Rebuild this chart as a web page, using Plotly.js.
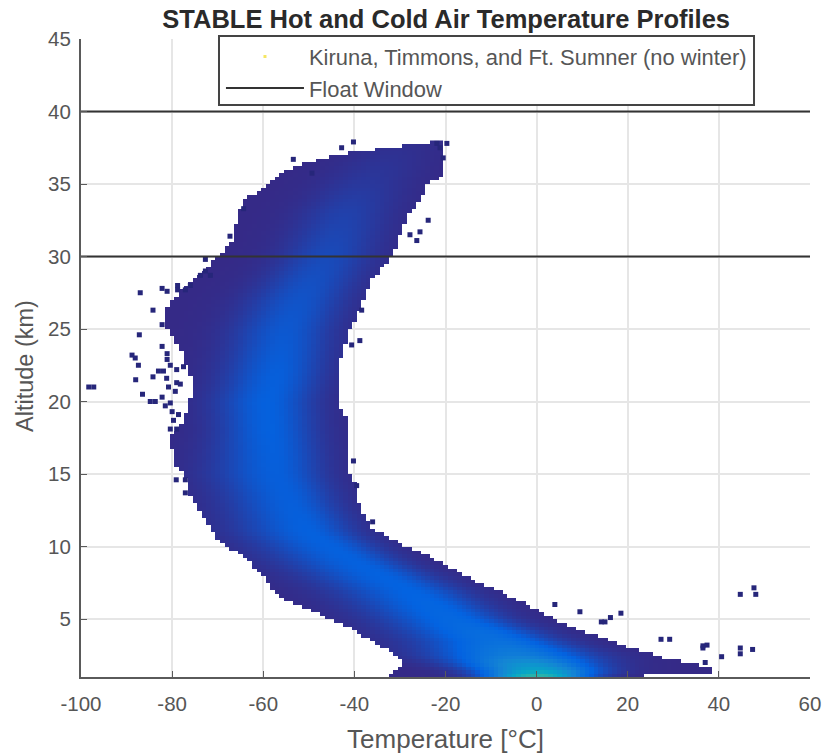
<!DOCTYPE html>
<html><head><meta charset="utf-8">
<script src="https://cdn.plot.ly/plotly-3.0.1.min.js"></script>
<style>html,body{margin:0;padding:0;background:#fff}</style></head>
<body><div id="chart" style="width:822px;height:754px"></div>
<script>
// Outline of the density cloud
const leftAlt  = [1,1.2,1.6,2,2.2,2.7,3.6,4.3,5.4,6.3,7.2,8.2,9.1,9.8,10.3,11.1,12.5,13.6,14.6,15.6,16.7,17.7,18.7,19.8,20.8,22.2,23.5,24.9,26.3,27.7,28.7,30,31.1,32.5,33.9,34.9,36,36.5,37,37.5,37.9];
const leftTemp = [-32,-32,-31,-29.5,-29.3,-32,-36.6,-40.3,-48,-54.8,-58.5,-60.7,-63.5,-66.6,-69.5,-71,-74,-76,-76.7,-79,-80,-80,-77.5,-76.6,-75,-76.6,-78,-81,-81.5,-78,-74,-70,-67,-65.7,-64.3,-59,-54.8,-50,-44,-32,-23];
const rightAlt  = [1,1.35,1.36,1.7,2.3,3,3.8,4.6,5.8,6.8,7.85,9.1,9.8,10.95,11.4,12.3,13.2,14.2,15.6,17,18,19.1,20.1,21.5,22.9,23.9,24.9,25.6,27,28.4,30,31.5,32.9,33.9,34.9,35.6,36.7,37.9];
const rightTemp = [23.3,23.5,38,38,28.6,21,13.9,6.6,-0.8,-7.4,-14.6,-22,-27,-34.4,-36.5,-38,-39.4,-39.4,-42,-41.4,-42,-42,-44,-44,-43,-42,-41.4,-40,-38,-36,-31.7,-30,-28,-25.6,-24,-21,-21,-20];
// Ridge of highest density per altitude, its level and half-widths
const ridgeAlt   = [1,1.5,2.5,3.5,5,7,9,11,13,15,18,20,22,25,27,30,33,35,37.9];
const ridgeTemp  = [0,0,-4,-8,-18,-28,-40,-50,-54,-57,-58.5,-59,-57,-55,-52,-46,-42,-38,-30];
const ridgeLevel = [.5,.36,.22,.17,.14,.125,.12,.12,.115,.115,.12,.12,.115,.1,.09,.07,.05,.03,.01];
const halfLeft   = [8,10,14,14,13,13,13,12,11,11,9,9,9,9,9,8,8,8,8];
const halfRight  = [8,10,12,10,9,9,8,8,8,8,8,8,8,8,8,8,8,8,8];
// Isolated readings outside the main cloud
const strayTemp = [-87,-84.2,-87.2,-88.8,-88.1,-87.4,-88,-98.3,-97.2,-86.5,-84.8,-83.7,-82.2,-84.2,-83,-81.9,-81.2,-80.8,-79,-78.2,-79.3,-80.4,-81.5,-80,-78.6,-79.7,-80.4,-79,-82.2,-81.1,-78.8,-78.8,-77.1,-76,-72.7,-72.7,-73.8,-71.6,-82.2,-82.2,-81.1,-81.1,-80.4,-79,-77.5,-40.2,-39.5,-38.8,-40.6,-79.1,-77.1,-77.1,-38.4,-40.2,-23.8,-25.6,-27.8,-26.3,-20.5,-21.9,-19.7,-21.2,-64.3,-67.3,-49.3,-53.4,-42.8,4,9.5,14.2,15,16.2,18.5,27.3,29.2,36.5,37.4,36.5,37,40.6,44.7,47.7,48.1,44.7,44.7,47.4,-36];
const strayAlt  = [27.5,26.3,24.6,23.2,23,22.5,21.5,21,21,20.5,20,20,20.3,21.7,22.1,22.1,21.6,21,21.3,21.2,20.7,19.9,19.7,19.3,19.1,18.7,18.1,18.1,27.8,27.6,28,27.7,27.7,28,29.8,29,28.7,28.7,25.3,23.8,23.3,22.9,22.5,22.2,22.4,15.9,14.2,24.2,23.9,14.6,14.6,13.7,26.3,37.9,32.5,31.7,31.5,31.1,36.8,37.8,37.8,37.5,33.3,31.4,35.75,36.7,37.5,6,5.5,4.8,4.8,5.1,5.4,3.6,3.6,3.15,3.2,3,2,2.4,6.7,7.15,6.7,3,2.6,2.9,11.7];
const windowAlt = [30,40];
const xTicks = [-100,-80,-60,-40,-20,0,20,40,60];
const xLabels = ["-100","-80","-60","-40","-20","0","20","40","60"];
const yTicks = [5,10,15,20,25,30,35,40,45];
const yLabels = ["5","10","15","20","25","30","35","40","45"];
const seriesNames = ["Kiruna, Timmons, and Ft. Sumner (no winter)","Float Window"];
const parula = [[0,"#352a87"],[.125,"#0363e1"],[.25,"#1485d4"],[.375,"#06a7c6"],[.5,"#38b99e"],[.625,"#92bf73"],[.75,"#d9ba56"],[.875,"#fcce2e"],[1,"#f9fb0e"]];

function lookup(xs, ys, x){
  if(x<=xs[0]) return ys[0];
  for(let i=1;i<xs.length;i++){ if(x<=xs[i]){const f=(x-xs[i-1])/(xs[i]-xs[i-1]);return ys[i-1]+f*(ys[i]-ys[i-1]);} }
  return ys[ys.length-1];
}
const binT=[], binA=[], z=[];
for(let t=-100;t<=60;t+=1) binT.push(t);
for(let a=1.125;a<38;a+=0.25) binA.push(a);
binA.forEach(a=>{
  const L=lookup(leftAlt,leftTemp,a), R=lookup(rightAlt,rightTemp,a), c=lookup(ridgeAlt,ridgeTemp,a), p=lookup(ridgeAlt,ridgeLevel,a);
  const wl=lookup(ridgeAlt,halfLeft,a), wr=lookup(ridgeAlt,halfRight,a);
  z.push(binT.map(t=>{
    if(t<L||t>R) return null;
    const w=t<c?wl:wr;
    return p*Math.pow(.5,Math.pow((t-c)/w,2));
  }));
});
const windowX=[-100,60,null,-100,60], windowY=[windowAlt[0],windowAlt[0],null,windowAlt[1],windowAlt[1]];
const axisBase={showgrid:true,gridcolor:"#e6e6e6",gridwidth:2,zeroline:false,showline:true,linecolor:"#5a5a5a",linewidth:2,ticks:"inside",ticklen:6,tickcolor:"#5a5a5a",tickfont:{family:"Liberation Sans",size:20.5,color:"#565656"}};
Plotly.newPlot("chart",[
 {type:"heatmap",x:binT,y:binA,z:z,zmin:0,zmax:1,colorscale:parula,showscale:false,hoverongaps:false,showlegend:false},
 {type:"scatter",mode:"markers",x:strayTemp,y:strayAlt,marker:{symbol:"square",size:5,color:"#26267a"},showlegend:false},
 {type:"scatter",mode:"markers",name:seriesNames[0],x:[null],y:[null],marker:{symbol:"square",size:3,color:"#f5e663"},legendgroup:"a"},
 {type:"scatter",mode:"lines",name:seriesNames[1],x:windowX,y:windowY,line:{color:"#333",width:2},legendgroup:"b"}
],{
 width:822,height:754,paper_bgcolor:"#fff",plot_bgcolor:"#fff",
 margin:{l:81,r:12,t:39,b:77},
 title:{text:"<b>STABLE Hot and Cold Air Temperature Profiles</b>",x:0.5428,xanchor:"center",y:0.975,yanchor:"middle",font:{family:"Liberation Sans",size:25.5,color:"#2a2a2a"}},
 xaxis:Object.assign({},axisBase,{range:[-100,60],tickmode:"array",tickvals:xTicks,ticktext:xLabels,ticklabelstandoff:7,title:{text:"Temperature [°C]",font:{family:"Liberation Sans",size:26,color:"#565656"},standoff:16}}),
 yaxis:Object.assign({},axisBase,{range:[1,45],tickmode:"array",tickvals:yTicks,ticktext:yLabels,ticklabelstandoff:4}),
 annotations:[{text:"Altitude (km)",xref:"paper",yref:"paper",x:-0.0768,y:0.4875,xanchor:"center",yanchor:"middle",textangle:-90,showarrow:false,font:{family:"Liberation Sans",size:23.5,color:"#565656"}}],
 shapes:[{type:"rect",xref:"paper",yref:"paper",x0:0.1893,x1:0.9232,y0:0.8966,y1:1.0047,fillcolor:"#fff",line:{color:"#444",width:2},layer:"above"}],
 legend:{x:0.192,xanchor:"left",y:1.005,yanchor:"top",bgcolor:"rgba(255,255,255,0)",borderwidth:0,font:{family:"Liberation Sans",size:21.95,color:"#565656"},traceorder:"grouped",tracegroupgap:0,itemwidth:78,itemclick:false}
},{displayModeBar:false,staticPlot:true});
</script></body></html>
